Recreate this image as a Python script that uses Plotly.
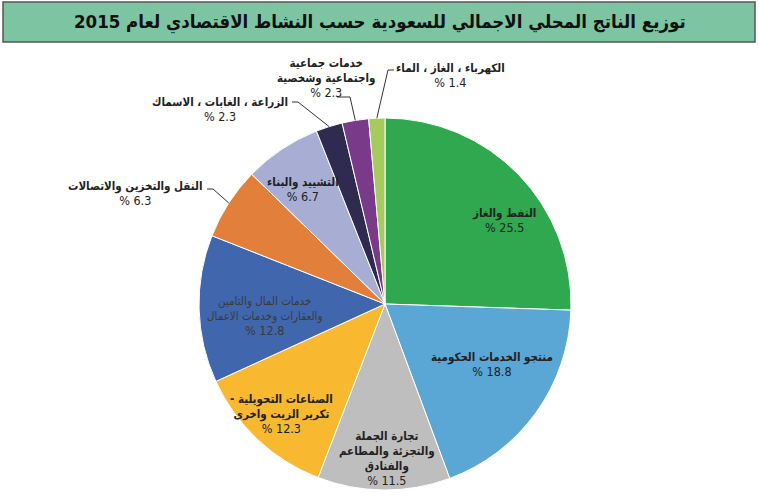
import math
import plotly.graph_objects as go

W, H = 759, 500

# ---- data ----
sectors = [
    "النفط والغاز",
    "منتجو الخدمات الحكومية",
    "تجارة الجملة والتجزئة والمطاعم والفنادق",
    "الصناعات التحويلية - تكرير الزيت واخرى",
    "خدمات المال والتامين والعقارات وخدمات الاعمال",
    "النقل والتخزين والاتصالات",
    "التشييد والبناء",
    "الزراعة ، الغابات ، الاسماك",
    "خدمات جماعية واجتماعية وشخصية",
    "الكهرباء ، الغاز ، الماء",
]
shares = [25.5, 18.8, 11.5, 12.3, 12.8, 6.3, 6.7, 2.3, 2.3, 1.4]
label_lines = [
    ["النفط والغاز"],
    ["منتجو الخدمات الحكومية"],
    ["تجارة الجملة", "والتجزئة والمطاعم", "والفنادق"],
    ["الصناعات التحويلية -\u200f", "تكرير الزيت واخرى"],
    ["خدمات المال والتامين", "والعقارات وخدمات الاعمال"],
    ["النقل والتخزين والاتصالات"],
    ["التشييد والبناء"],
    ["الزراعة ، الغابات ، الاسماك"],
    ["خدمات جماعية", "واجتماعية وشخصية"],
    ["الكهرباء ، الغاز ، الماء"],
]
title = "توزيع الناتج المحلي الاجمالي للسعودية حسب النشاط الاقتصادي لعام 2015"

# ---- styles ----
colors = ["#2FA84F", "#5AA6D5", "#BEBEBE", "#F8B930", "#4066AE",
          "#E2803B", "#A8ADD3", "#2F2A4F", "#7A3A8A", "#A4CB5B"]
FONT = "DejaVu Sans Condensed, DejaVu Sans"
CX, CY, R = 385, 304, 186  # pie centre / radius in pixels

def px(x):
    return x / W

def py(y):
    return 1 - y / H

fig = go.Figure(go.Pie(
    labels=sectors, values=shares, sort=False, direction="clockwise",
    rotation=0, marker=dict(colors=colors, line=dict(color="white", width=1)),
    textinfo="none", hoverinfo="label+value", showlegend=False,
    domain=dict(x=[px(CX - R), px(CX + R)], y=[py(CY + R), py(CY - R)]),
))

total = sum(shares)
mids = []
acc = 0
for v in shares:
    mids.append((acc + v / 2) / total * 360)
    acc += v

def polar(theta_deg, rf):
    t = math.radians(theta_deg)
    return CX + rf * R * math.sin(t), CY - rf * R * math.cos(t)

def pct(v):
    return "<span style='font-size:12.5px;font-weight:normal'>% " + f"{v}" + "</span>"

annotations = []
shapes = []

# inside labels: (angle offset, radius fraction, bold?)
inside = {0: (9, 0.78, True), 1: (-6, 0.66, True), 2: (-1, 0.83, True),
          3: (0, 0.81, True), 4: (-4, 0.65, False), 6: (-2, 0.76, True)}
for i, (dth, rf, bold) in inside.items():
    x, y = polar(mids[i] + dth, rf)
    name = "<br>".join(label_lines[i])
    if bold:
        name = "<b>" + "</b><br><b>".join(label_lines[i]) + "</b>"
    txt = name + "<br>" + pct(shares[i])
    annotations.append(dict(
        x=px(x), y=py(y), xref="paper", yref="paper", text=txt,
        showarrow=False, align="center", xanchor="center", yanchor="middle",
        font=dict(family=FONT, size=11.5, color="#222" if bold else "#3a3a3a"),
    ))

# outside labels with leader lines: text pos (px), anchor, elbow points
outside = {
    5: dict(tx=204, ty=193, xanchor="right", elbow=[(207, 189), (213, 189)]),
    7: dict(tx=290, ty=110, xanchor="right", elbow=[(292, 102), (298, 102)]),
    8: dict(tx=326, ty=78, xanchor="center", elbow=[(337, 97), (350, 97)]),
    9: dict(tx=450, ty=75, xanchor="center", elbow=[(394, 70), (388, 70)]),
}
for i, o in outside.items():
    name = "<b>" + "</b><br><b>".join(label_lines[i]) + "</b>"
    txt = name + "<br>" + pct(shares[i])
    annotations.append(dict(
        x=px(o["tx"]), y=py(o["ty"]), xref="paper", yref="paper", text=txt,
        showarrow=False, align="center", xanchor=o["xanchor"], yanchor="middle",
        font=dict(family=FONT, size=11.5, color="#222"),
    ))
    ex, ey = polar(mids[i], 1.0)
    pts = o["elbow"] + [(ex, ey)]
    path = "M " + " L ".join(f"{px(a)},{py(b)}" for a, b in pts)
    shapes.append(dict(type="path", xref="paper", yref="paper", path=path,
                       line=dict(color="#333", width=1)))

# title box
shapes.append(dict(type="rect", xref="paper", yref="paper",
                   x0=px(3), x1=px(755), y0=py(42), y1=py(2),
                   fillcolor="#7DC5A2", line=dict(color="#555", width=1.5),
                   layer="below"))
annotations.append(dict(
    x=px(380), y=py(22), xref="paper", yref="paper",
    text="<b>" + title + "</b>", showarrow=False,
    xanchor="center", yanchor="middle",
    font=dict(family=FONT, size=18.5, color="#111"),
))

fig.update_layout(
    width=W, height=H, margin=dict(l=0, r=0, t=0, b=0),
    paper_bgcolor="white", plot_bgcolor="white",
    annotations=annotations, shapes=shapes,
)
fig.write_html("out.html")
